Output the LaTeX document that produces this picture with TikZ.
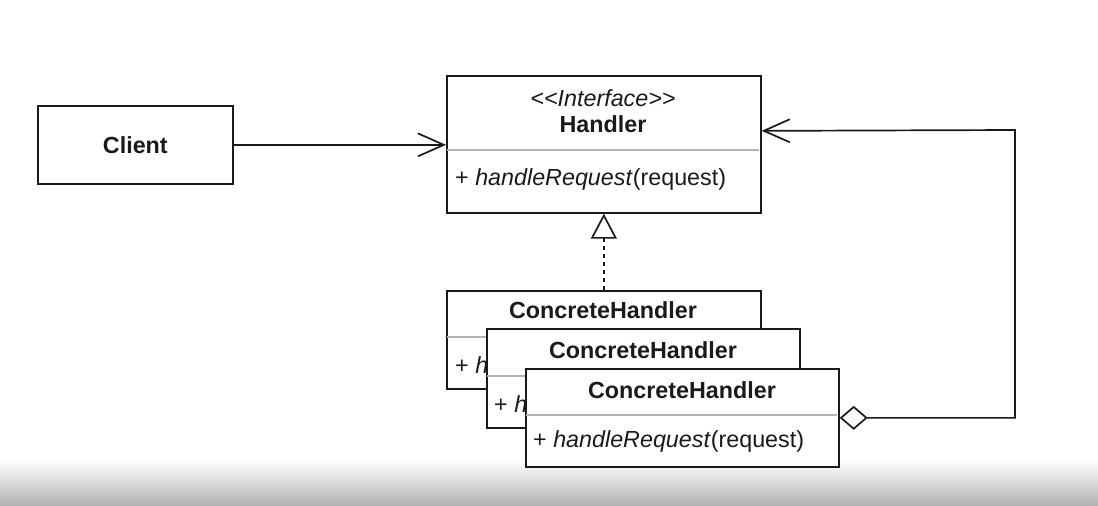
\documentclass[tikz,border=0pt]{standalone}
\usepackage{fontspec}
\setmainfont{Liberation Sans}
\usetikzlibrary{arrows.meta}
\definecolor{ink}{HTML}{1A1A1A}
\definecolor{sepgray}{HTML}{B4B4B4}
\definecolor{barbot}{HTML}{B0B0B0}
\begin{document}
\begin{tikzpicture}[x=1pt,y=-1pt,
  box/.style={draw=ink, line width=1.7pt, fill=white, rectangle, inner sep=0pt, anchor=north west},
  txt/.style={inner sep=0pt, font=\fontsize{23.3}{27}\selectfont, text=ink},
  btxt/.style={inner sep=0pt, font=\fontsize{23.3}{27}\selectfont\bfseries, text=ink},
  sepline/.style={draw=sepgray, line width=1.2pt},
  conn/.style={draw=ink, line width=1.7pt},
  openarrow/.style={-{Straight Barb[length=26pt,width=23pt,line width=1.7pt]}},
  realize/.style={dash pattern=on 4pt off 4pt, -{Triangle[open,fill=white,length=25pt,width=26pt,line width=1.7pt]}},
  aggr/.style={{Diamond[open,fill=white,length=28pt,width=24pt,line width=1.7pt]}-{Straight Barb[length=26pt,width=23pt,line width=1.7pt]}}
]
\useasboundingbox (0,0) rectangle (1098,506);
\fill[white] (0,0) rectangle (1098,506);
\shade[top color=white, bottom color=barbot] (0,460) rectangle (1098,506);

% Client
\node[box, minimum width=195pt, minimum height=78pt] (client) at (37,105) {};
\node[btxt] (clientname) at (client.center) {Client};

% Handler
\node[box, minimum width=314pt, minimum height=137pt] (handler) at (446,75) {};
\draw[sepline] (447,150) -- (759,150);
\node[txt] (hstereo) at (603,98) {\itshape <{}<Interface>{}>};
\node[btxt] (hname) at (603,124) {Handler};
\node[txt, anchor=west] (hmethod) at (455,179) {+ \textit{handleRequest}(request)};

% Concrete handlers
\node[box, minimum width=314pt, minimum height=98pt] (ch1) at (446,290) {};
\draw[sepline] (447,337) -- (759,337);
\node[btxt] (ch1name) at (603,310) {ConcreteHandler};
\node[txt, anchor=west] (ch1method) at (455,365) {+ \textit{h}};

\node[box, minimum width=313pt, minimum height=99pt] (ch2) at (486,328) {};
\draw[sepline] (487,376) -- (798,376);
\node[btxt] (ch2name) at (643,350) {ConcreteHandler};
\node[txt, anchor=west] (ch2method) at (494,404) {+ \textit{h}};

\node[box, minimum width=313pt, minimum height=98pt] (ch3) at (525,368) {};
\draw[sepline] (526,415) -- (837,415);
\node[btxt] (ch3name) at (682,390) {ConcreteHandler};
\node[txt, anchor=west] (ch3method) at (533,441) {+ \textit{handleRequest}(request)};

% Connectors
\draw[conn, openarrow] (client.east) -- (client.east -| handler.west);
\draw[conn, realize] (ch1.north) -- (handler.south);
\coordinate (turn) at (1015,130);
\draw[conn, aggr] (ch3.east) -| (turn) -- ([yshift=13.5pt]handler.east);
\end{tikzpicture}
\end{document}
